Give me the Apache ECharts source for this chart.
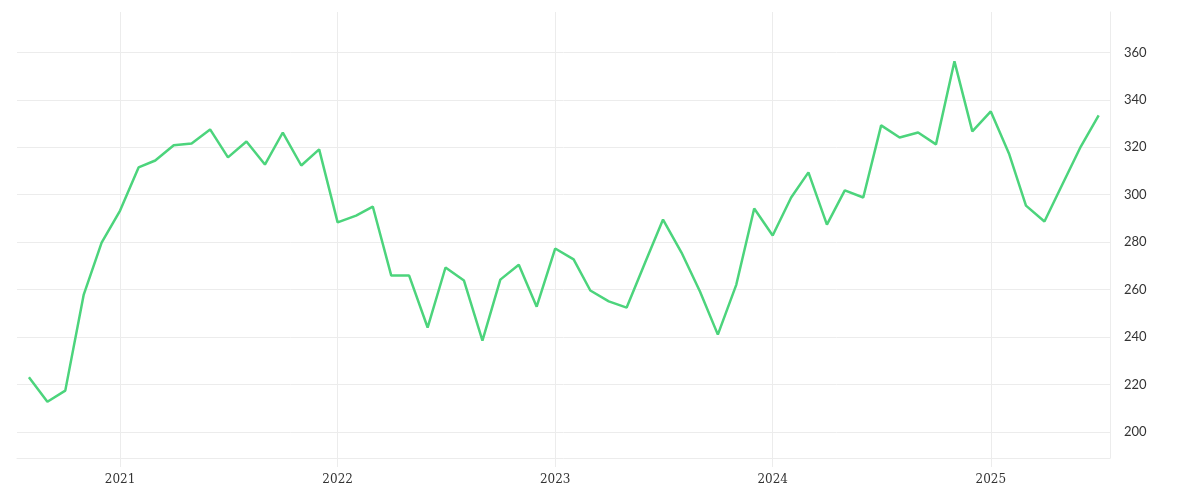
<!DOCTYPE html>
<html><head><meta charset="utf-8">
<script src="https://cdn.jsdelivr.net/npm/echarts@6/dist/echarts.min.js"></script>
<style>html,body{margin:0;padding:0;background:#fff}#c{width:1200px;height:500px}</style>
</head><body><div id="c"></div>
<script>
const startYear = 2020, startMonth = 8;
const values = [223,212.7,217.4,257.9,279.8,293.3,311.5,314.4,320.8,321.6,327.5,315.7,322.4,312.7,326.2,312.3,319.1,
288.3,291.2,295,265.9,265.9,244,269.3,263.8,238.5,264.2,270.5,252.8,
277.3,272.7,259.6,255,252.4,271.4,289.5,275.6,259.2,241,262.1,294.2,
282.8,298.8,309.4,287.4,301.8,298.8,329.2,324.1,326.2,321.2,356.2,326.7,
335.1,317,295.4,288.7,304.3,320.3,333.4];
const yTicks = [200,220,240,260,280,300,320,340,360];
const xYears = [2021,2022,2023,2024,2025];
const data = values.map((v,i)=>{const m=startMonth-1+i;return [Date.UTC(startYear+Math.floor(m/12),m%12,1),v];});
const yearTs = xYears.map(y=>Date.UTC(y,0,1));
const grid='#ececec';
const chart = echarts.init(document.getElementById('c'));
chart.setOption({
  animation:false,
  grid:{left:17,right:90,top:12,bottom:42},
  xAxis:{type:'value',min:Date.UTC(2020,6,12),max:Date.UTC(2025,6,20),
    axisLine:{show:true,lineStyle:{color:grid}},
    axisTick:{show:true,length:9,lineStyle:{color:grid},customValues:yearTs},
    axisLabel:{customValues:yearTs,formatter:v=>String(new Date(v).getUTCFullYear()),color:'#333',fontFamily:'DejaVu Serif',fontSize:12,margin:16},
    splitLine:{show:true,lineStyle:{color:grid}}},
  yAxis:{type:'value',position:'right',min:189,max:377,
    axisLine:{show:true,lineStyle:{color:grid}},
    axisTick:{show:false,customValues:yTicks},
    axisLabel:{customValues:yTicks,color:'#333',fontFamily:'Lato',fontSize:13,margin:14},
    splitLine:{show:true,lineStyle:{color:grid}}},
  series:[{type:'line',data:data,symbol:'none',lineStyle:{color:'#4cd47c',width:2.5},itemStyle:{color:'#4cd47c'}}]
});
</script></body></html>
